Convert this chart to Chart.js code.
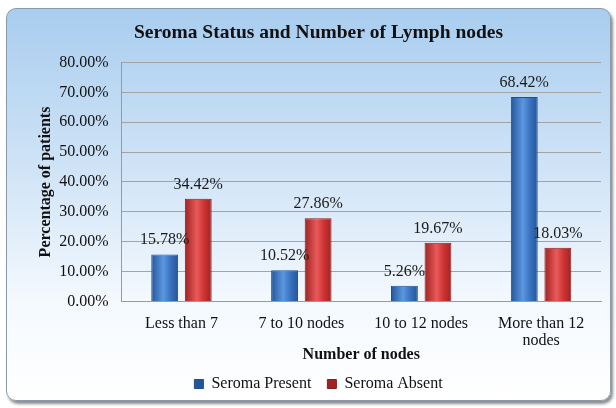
<!DOCTYPE html>
<html>
<head>
<meta charset="utf-8">
<script src="https://cdn.jsdelivr.net/npm/chart.js@4"></script>
<style>
  html, body { margin: 0; padding: 0; background: #ffffff; }
  #wrap { position: relative; width: 616px; height: 408px; }
  #frame {
    position: absolute; left: 6px; top: 8px; width: 603px; height: 391px;
    border: 1px solid #8c9aa8; border-radius: 10px;
    background: linear-gradient(to bottom, #a9cdef 0%, #cfe3f6 40%, #f4f9fe 75%, #ffffff 100%);
    box-shadow: 2px 3px 3px rgba(0,0,0,0.45);
  }
  canvas { position: absolute; left: 0; top: 0; }
</style>
</head>
<body>
<div id="wrap">
  <div id="frame"></div>
  <canvas id="chart" width="616" height="408"></canvas>
</div>
<script>
var categories = ['Less than 7', '7 to 10 nodes', '10 to 12 nodes', ['More than 12', 'nodes']];
var seromaPresent = [15.78, 10.52, 5.26, 68.42];
var seromaAbsent = [34.42, 27.86, 19.67, 18.03];
var yTicks = [0, 10, 20, 30, 40, 50, 60, 70, 80];

var serif = '"Liberation Serif", "DejaVu Serif", serif';

function barFill(dark, mid, light) {
    return function (c) {
        var el = c.element;
        if (!el || el.x == null || !el.width) return mid;
        var g = c.chart.ctx.createLinearGradient(el.x - el.width / 2, 0, el.x + el.width / 2, 0);
        g.addColorStop(0, dark);
        g.addColorStop(0.45, light);
        g.addColorStop(0.7, mid);
        g.addColorStop(1, dark);
        return g;
    };
}

// value labels above every bar
var barLabels = {
    id: 'barLabels',
    afterDatasetsDraw: function (chart) {
        var ctx = chart.ctx;
        ctx.save();
        ctx.font = '16px ' + serif;
        ctx.fillStyle = '#1a1a1a';
        ctx.textAlign = 'center';
        ctx.textBaseline = 'alphabetic';
        chart.data.datasets.forEach(function (ds, i) {
            chart.getDatasetMeta(i).data.forEach(function (bar, j) {
                ctx.fillText(ds.data[j].toFixed(2) + '%', bar.x, bar.y - 10);
            });
        });
        ctx.restore();
    }
};

var ctx = document.getElementById('chart').getContext('2d');
var myChart = new Chart(ctx, {
    type: 'bar',
    data: {
        labels: categories,
        datasets: [{
            label: 'Seroma Present',
            data: seromaPresent,
            backgroundColor: barFill('#24559a', '#3b74c2', '#5c97e0'),
            borderColor: '#1f4f8f',
            borderWidth: 1,
            categoryPercentage: 0.56,
            barPercentage: 0.8
        }, {
            label: 'Seroma Absent',
            data: seromaAbsent,
            backgroundColor: barFill('#a02222', '#d03434', '#e85a5a'),
            borderColor: '#8c1c1c',
            borderWidth: 1,
            categoryPercentage: 0.56,
            barPercentage: 0.8
        }]
    },
    options: {
        responsive: false,
        animation: false,
        layout: { padding: { top: 21, left: 36, right: 15, bottom: 6 } },
        plugins: {
            title: {
                display: true,
                text: 'Seroma Status and Number of Lymph nodes',
                color: '#111',
                font: { family: serif, size: 19.5, weight: 'bold' },
                padding: { top: 0, bottom: 18 }
            },
            legend: {
                position: 'bottom',
                labels: {
                    color: '#111',
                    font: { family: serif, size: 16 },
                    boxWidth: 9,
                    boxHeight: 9,
                    padding: 16
                }
            },
            tooltip: { enabled: false }
        },
        scales: {
            x: {
                grid: { display: false },
                border: { display: true, color: '#9a9a9a' },
                ticks: { color: '#111', font: { family: serif, size: 16, lineHeight: 1.1 }, padding: 5, maxRotation: 0 },
                title: {
                    display: true,
                    text: 'Number of nodes',
                    color: '#111',
                    font: { family: serif, size: 16, weight: 'bold' },
                    padding: { top: -10, bottom: -4 }
                }
            },
            y: {
                min: 0,
                max: 80,
                afterBuildTicks: function (axis) {
                    axis.ticks = yTicks.map(function (v) { return { value: v }; });
                },
                grid: { color: '#a3a3a3', drawTicks: false },
                border: { display: true, color: '#9a9a9a' },
                ticks: {
                    color: '#111',
                    font: { family: serif, size: 16 },
                    padding: 13,
                    callback: function (v) { return v.toFixed(2) + '%'; }
                },
                title: {
                    display: true,
                    text: 'Percentage of patients',
                    color: '#111',
                    font: { family: serif, size: 16, weight: 'bold' },
                    padding: { top: 0, bottom: -9 }
                }
            }
        }
    },
    plugins: [barLabels]
});
myChart.update('none');
</script>
</body>
</html>
